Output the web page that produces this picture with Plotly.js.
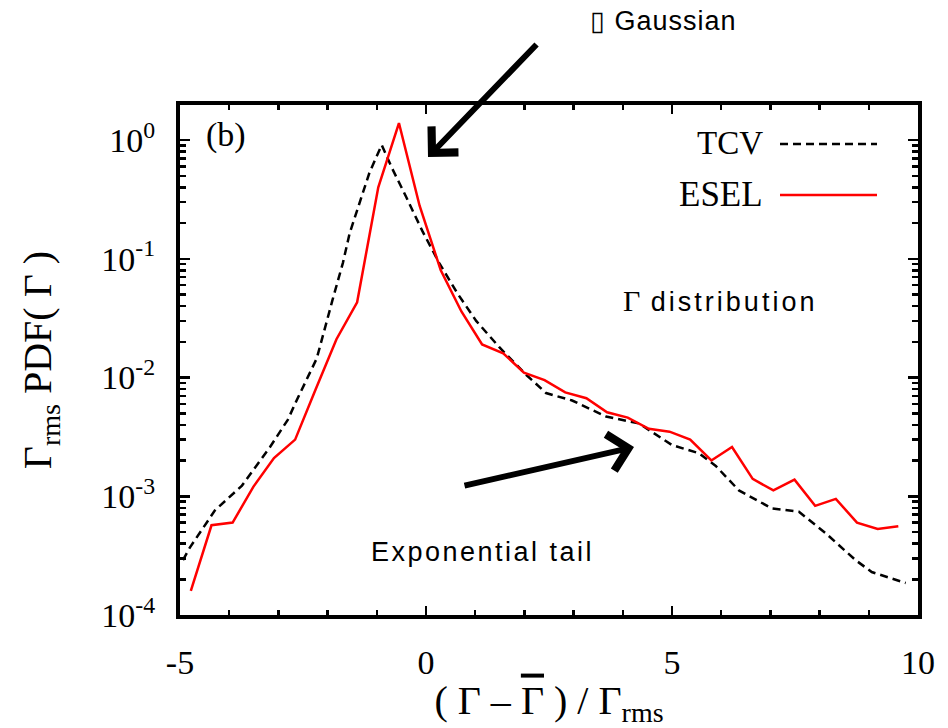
<!DOCTYPE html>
<html>
<head>
<meta charset="utf-8">
<script src="https://cdn.plot.ly/plotly-3.0.1.min.js"></script>
<style>
html, body { margin: 0; padding: 0; background: #fff; }
#chart { width: 948px; height: 728px; }
</style>
</head>
<body>
<div id="chart"></div>
<script>
// ---- data ----
const tcvX = [-4.94, -4.80, -4.29, -3.74, -3.17, -2.81, -2.63, -2.22, -1.90, -1.69, -1.55, -1.35, -1.15, -0.90,
              -0.70, -0.40, -0.07, 0.27, 0.64, 1.02, 1.49, 2.04, 2.44, 2.97, 3.66, 4.33, 5.00, 5.55, 5.89,
              6.36, 7.03, 7.58, 8.12, 8.73, 9.06, 9.75];
const tcvY = [2.9e-4, 3.7e-4, 7.6e-4, 1.23e-3, 2.6e-3, 4.4e-3, 6.4e-3, 0.0145, 0.045, 0.092, 0.165, 0.29, 0.53, 0.91,
              0.59, 0.33, 0.17, 0.092, 0.051, 0.030, 0.018, 0.0105, 0.0074, 0.0064, 0.0047, 0.0041, 0.0027, 0.0023, 0.0018,
              0.00112, 0.00079, 0.00074, 0.00049, 0.00029, 0.00023, 0.000186];

const eselX = [-4.78, -4.36, -3.93, -3.51, -3.09, -2.66, -2.24, -1.82, -1.40, -0.97, -0.55, -0.13, 0.30, 0.72,
               1.14, 1.57, 1.99, 2.41, 2.83, 3.26, 3.68, 4.10, 4.53, 4.95, 5.37, 5.80, 6.22, 6.64, 7.06,
               7.49, 7.91, 8.33, 8.76, 9.18, 9.60];
const eselY = [1.6e-4, 5.7e-4, 6.0e-4, 1.2e-3, 2.1e-3, 3.0e-3, 8.0e-3, 0.021, 0.043, 0.40, 1.39, 0.28, 0.08, 0.036,
               0.019, 0.016, 0.011, 0.0095, 0.0075, 0.0067, 0.0051, 0.0046, 0.0037, 0.0035, 0.0030, 0.0020, 0.0026, 0.0014, 0.00112,
               0.00138, 0.00083, 0.00095, 0.0006, 0.00053, 0.00056];

const xTickVals = [-5, 0, 5, 10];
const xTickText = ['-5', '0', '5', '10'];
const yTickVals = [1e-4, 1e-3, 1e-2, 1e-1, 1];
const yTickText = ['10<sup>-4</sup>', '10<sup>-3</sup>', '10<sup>-2</sup>', '10<sup>-1</sup>', '10<sup>0</sup>'];

// ---- layout helpers ----
const yMinor = [];
for (let e = -4; e <= 0; e++) for (let m = 2; m <= 9; m++) yMinor.push(m * Math.pow(10, e));
const xMinor = [];
for (let v = -5; v <= 10; v++) xMinor.push(v);

const serif = 'Liberation Serif, Times New Roman, serif';
const sans = 'Liberation Sans, Arial, sans-serif';

const traces = [
  { x: tcvX, y: tcvY, type: 'scatter', mode: 'lines', name: 'TCV',
    line: { color: '#000', width: 2.5, dash: '8px,5px' } },
  { x: eselX, y: eselY, type: 'scatter', mode: 'lines', name: 'ESEL',
    line: { color: '#ff0000', width: 2.5 } }
];

const layout = {
  width: 948, height: 728,
  margin: { l: 180, r: 30, t: 105, b: 113 },
  paper_bgcolor: '#fff', plot_bgcolor: '#fff',
  showlegend: false,
  font: { family: serif, color: '#000', size: 32 },
  xaxis: {
    range: [-5, 10], showgrid: false, zeroline: false,
    showline: true, linewidth: 4, linecolor: '#000', mirror: 'allticks',
    tickmode: 'array', tickvals: xTickVals, ticktext: xTickText,
    ticks: 'inside', ticklen: 9, tickwidth: 2.5, tickcolor: '#000',
    minor: { tickmode: 'array', tickvals: xMinor, ticks: 'inside', ticklen: 5, tickwidth: 2.5, tickcolor: '#000', showgrid: false },
    tickfont: { family: serif, size: 34 },
    ticklabelstandoff: 14,
    title: { text: '( Γ – <span style="text-decoration:overline">Γ</span> ) / Γ<sub>rms</sub>', font: { family: serif, size: 40 }, standoff: 31 },
    automargin: false
  },
  yaxis: {
    type: 'log', range: [-4, 0.295], showgrid: false, zeroline: false,
    showline: true, linewidth: 4, linecolor: '#000', mirror: 'allticks',
    tickmode: 'array', tickvals: yTickVals, ticktext: yTickText,
    ticks: 'inside', ticklen: 10, tickwidth: 2.5, tickcolor: '#000',
    minor: { tickmode: 'array', tickvals: yMinor, ticks: 'inside', ticklen: 6, tickwidth: 2.5, tickcolor: '#000', showgrid: false },
    tickfont: { family: serif, size: 34 },
    ticklabelstandoff: 14,
    title: { text: 'Γ<sub>rms</sub> PDF( Γ )', font: { family: serif, size: 40 }, standoff: 38 },
    automargin: false
  },
  annotations: [
    { xref: 'paper', yref: 'paper', x: (204 - 180) / 738, y: (615 - 135) / 510, xanchor: 'left', yanchor: 'middle',
      text: '(b)', showarrow: false, font: { family: serif, size: 34 } },
    { xref: 'paper', yref: 'paper', x: (765 - 180) / 738, y: (615 - 143) / 510, xanchor: 'right', yanchor: 'middle',
      text: 'TCV', showarrow: false, font: { family: serif, size: 33 } },
    { xref: 'paper', yref: 'paper', x: (765 - 180) / 738, y: (615 - 194) / 510, xanchor: 'right', yanchor: 'middle',
      text: 'ESEL', showarrow: false, font: { family: serif, size: 35 } },
    { xref: 'paper', yref: 'paper', x: (588 - 180) / 738, y: (615 - 21) / 510, xanchor: 'left', yanchor: 'middle',
      text: '<span style="letter-spacing:1px">\u25AF Gaussian</span>', showarrow: false, font: { family: sans, size: 27 } },
    { xref: 'paper', yref: 'paper', x: (621 - 180) / 738, y: (615 - 300) / 510, xanchor: 'left', yanchor: 'middle',
      text: '<span style="font-family:Liberation Serif;font-size:30px">Γ</span><span style="letter-spacing:3px"> distribution</span>', showarrow: false, font: { family: sans, size: 27 } },
    { xref: 'paper', yref: 'paper', x: (369 - 180) / 738, y: (615 - 552) / 510, xanchor: 'left', yanchor: 'middle',
      text: '<span style="letter-spacing:2.5px">Exponential tail</span>', showarrow: false, font: { family: sans, size: 27 } },
    // arrows
    { xref: 'paper', yref: 'paper', x: (428 - 180) / 738, y: (615 - 157) / 510, ax: 110, ay: -114,
      text: '', showarrow: true, arrowhead: 4, arrowsize: 1.2, arrowwidth: 6, arrowcolor: '#000', standoff: 0 },
    { xref: 'paper', yref: 'paper', x: (634 - 180) / 738, y: (615 - 447) / 510, ax: -171, ay: 39,
      text: '', showarrow: true, arrowhead: 4, arrowsize: 1.2, arrowwidth: 6, arrowcolor: '#000', standoff: 0 }
  ],
  shapes: [
    { type: 'line', xref: 'paper', yref: 'paper', x0: (780 - 180) / 738, x1: (877 - 180) / 738,
      y0: (615 - 144) / 510, y1: (615 - 144) / 510, line: { color: '#000', width: 2.5, dash: '8px,5px' } },
    { type: 'line', xref: 'paper', yref: 'paper', x0: (780 - 180) / 738, x1: (877 - 180) / 738,
      y0: (615 - 195) / 510, y1: (615 - 195) / 510, line: { color: '#ff0000', width: 2.5 } }
  ]
};

Plotly.newPlot('chart', traces, layout, { displayModeBar: false, staticPlot: true });
</script>
</body>
</html>
